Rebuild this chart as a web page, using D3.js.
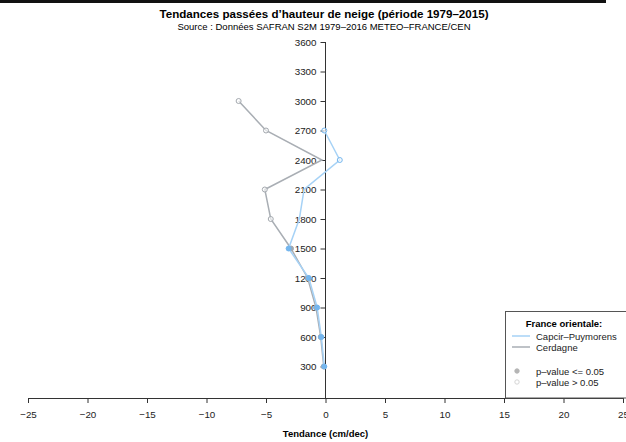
<!DOCTYPE html>
<html>
<head>
<meta charset="utf-8">
<script src="https://cdn.jsdelivr.net/npm/d3@7"></script>
<style>
  body { margin: 0; background: #fff; }
  svg { display: block; font-family: "Liberation Sans", Arial, sans-serif; }
</style>
</head>
<body>
<svg id="chart" width="626" height="442"></svg>
<script>
// altitude bands (m) and trends (cm/dec)
const altitudes = [300, 600, 900, 1200, 1500, 1800, 2100, 2400, 2700, 3000];
const capcirTrend = [-0.1, -0.35, -0.7, -1.4, -3.1, -2.2, -1.8, 1.2, -0.1, null];
const capcirSignif = [true, true, true, true, true, null, null, false, false, null];
const cerdagneTrend = [-0.15, -0.4, -0.8, -1.5, -2.9, -4.6, -5.1, -0.3, -5.0, -7.3];
const cerdagneSignif = [true, true, true, true, true, false, false, null, false, false];
const xTicks = [-25, -20, -15, -10, -5, 0, 5, 10, 15, 20, 25];
const yTicks = [300, 600, 900, 1200, 1500, 1800, 2100, 2400, 2700, 3000, 3300, 3600];
const seriesNames = ['Capcir\u2013Puymorens', 'Cerdagne'];

const COLORS = {
  capcir: '#a6d2f6',
  capcirPoint: '#74b6ee',
  cerdagne: '#a9aeb4',
  cerdagnePoint: '#a3a8ae',
  axis: '#333',
};

const svg = d3.select('#chart');

const x = d3.scaleLinear().domain([-25, 25]).range([28, 623]);
const y = d3.scaleLinear().domain([0, 3600]).range([396, 42]);

// top black band
svg.append('rect').attr('x', 0).attr('y', 0).attr('width', 606).attr('height', 3).attr('fill', '#111');

svg.append('text')
  .attr('x', 324).attr('y', 18)
  .attr('text-anchor', 'middle')
  .attr('font-size', 11.6).attr('font-weight', 'bold')
  .text('Tendances pass\u00e9es d\u2019hauteur de neige (p\u00e9riode 1979\u20132015)');

svg.append('text')
  .attr('x', 324).attr('y', 30)
  .attr('text-anchor', 'middle')
  .attr('font-size', 9.5)
  .text('Source : Donn\u00e9es SAFRAN S2M 1979\u20132016 METEO\u2013FRANCE/CEN');

// x axis at the bottom
const xAxis = svg.append('g')
  .attr('transform', `translate(0, ${y(0) + 2})`)
  .call(d3.axisBottom(x).tickValues(xTicks).tickSize(5).tickPadding(8)
    .tickFormat(d => d < 0 ? '\u2212' + Math.abs(d) : d));
xAxis.select('.domain').attr('stroke', COLORS.axis);
xAxis.selectAll('.tick line').attr('stroke', COLORS.axis);
xAxis.selectAll('text').attr('font-size', 9.8).attr('fill', '#222').attr('font-family', null);

svg.append('text')
  .attr('x', x(0)).attr('y', 437)
  .attr('text-anchor', 'middle')
  .attr('font-size', 9.5).attr('font-weight', 'bold')
  .text('Tendance (cm/dec)');

// y axis drawn on the zero line
const yAxis = svg.append('g')
  .attr('transform', `translate(${x(0)}, 0)`)
  .call(d3.axisLeft(y).tickValues(yTicks).tickSize(5).tickPadding(4).tickSizeOuter(0)
    .tickFormat(d3.format('d')));
yAxis.select('.domain').attr('stroke', COLORS.axis)
  .attr('d', `M0,${y(3600)}V${y(0) + 2}`);
yAxis.selectAll('.tick line').attr('stroke', COLORS.axis);
yAxis.selectAll('text').attr('font-size', 9.8).attr('fill', '#222').attr('font-family', null);

function drawSeries(trend, signif, lineColor, pointColor) {
  const pts = altitudes.map((a, i) => ({ alt: a, v: trend[i], s: signif[i] }))
    .filter(d => d.v !== null);

  const line = d3.line().x(d => x(d.v)).y(d => y(d.alt));

  svg.append('path')
    .datum(pts)
    .attr('d', line)
    .attr('fill', 'none')
    .attr('stroke', lineColor)
    .attr('stroke-width', 1.5);

  svg.append('g').selectAll('circle')
    .data(pts.filter(d => d.s !== null))
    .join('circle')
      .attr('cx', d => x(d.v))
      .attr('cy', d => y(d.alt))
      .attr('r', 2.5)
      .attr('fill', d => d.s ? pointColor : '#fff')
      .attr('fill-opacity', d => d.s ? 1 : 0.6)
      .attr('stroke', pointColor)
      .attr('stroke-width', 1);
}

drawSeries(cerdagneTrend, cerdagneSignif, COLORS.cerdagne, COLORS.cerdagnePoint);
drawSeries(capcirTrend, capcirSignif, COLORS.capcir, COLORS.capcirPoint);

// legend
const legend = svg.append('g');
legend.append('rect')
  .attr('x', 505.5).attr('y', 311.5)
  .attr('width', 130).attr('height', y(0) + 2 - 311.5)
  .attr('fill', '#fff').attr('stroke', '#555').attr('stroke-width', 1);

legend.append('text')
  .attr('x', 564).attr('y', 327)
  .attr('text-anchor', 'middle')
  .attr('font-size', 9.5).attr('font-weight', 'bold')
  .text('France orientale:');

[COLORS.capcir, COLORS.cerdagne].forEach((c, i) => {
  const ly = 336 + i * 11;
  legend.append('line')
    .attr('x1', 512).attr('x2', 530).attr('y1', ly).attr('y2', ly)
    .attr('stroke', c).attr('stroke-width', 1.5);
  legend.append('text')
    .attr('x', 536).attr('y', ly + 3.5)
    .attr('font-size', 9.5).attr('fill', '#222')
    .text(seriesNames[i]);
});

[['p\u2013value <= 0.05', true], ['p\u2013value > 0.05', false]].forEach(([label, filled], i) => {
  const ly = 371 + i * 11;
  legend.append('circle')
    .attr('cx', 517).attr('cy', ly).attr('r', 2.2)
    .attr('fill', filled ? '#b5b5b5' : '#fff')
    .attr('stroke', filled ? '#b5b5b5' : '#d5d5d5');
  legend.append('text')
    .attr('x', 536).attr('y', ly + 3.5)
    .attr('font-size', 9.5).attr('fill', '#222')
    .text(label);
});
</script>
</body>
</html>
